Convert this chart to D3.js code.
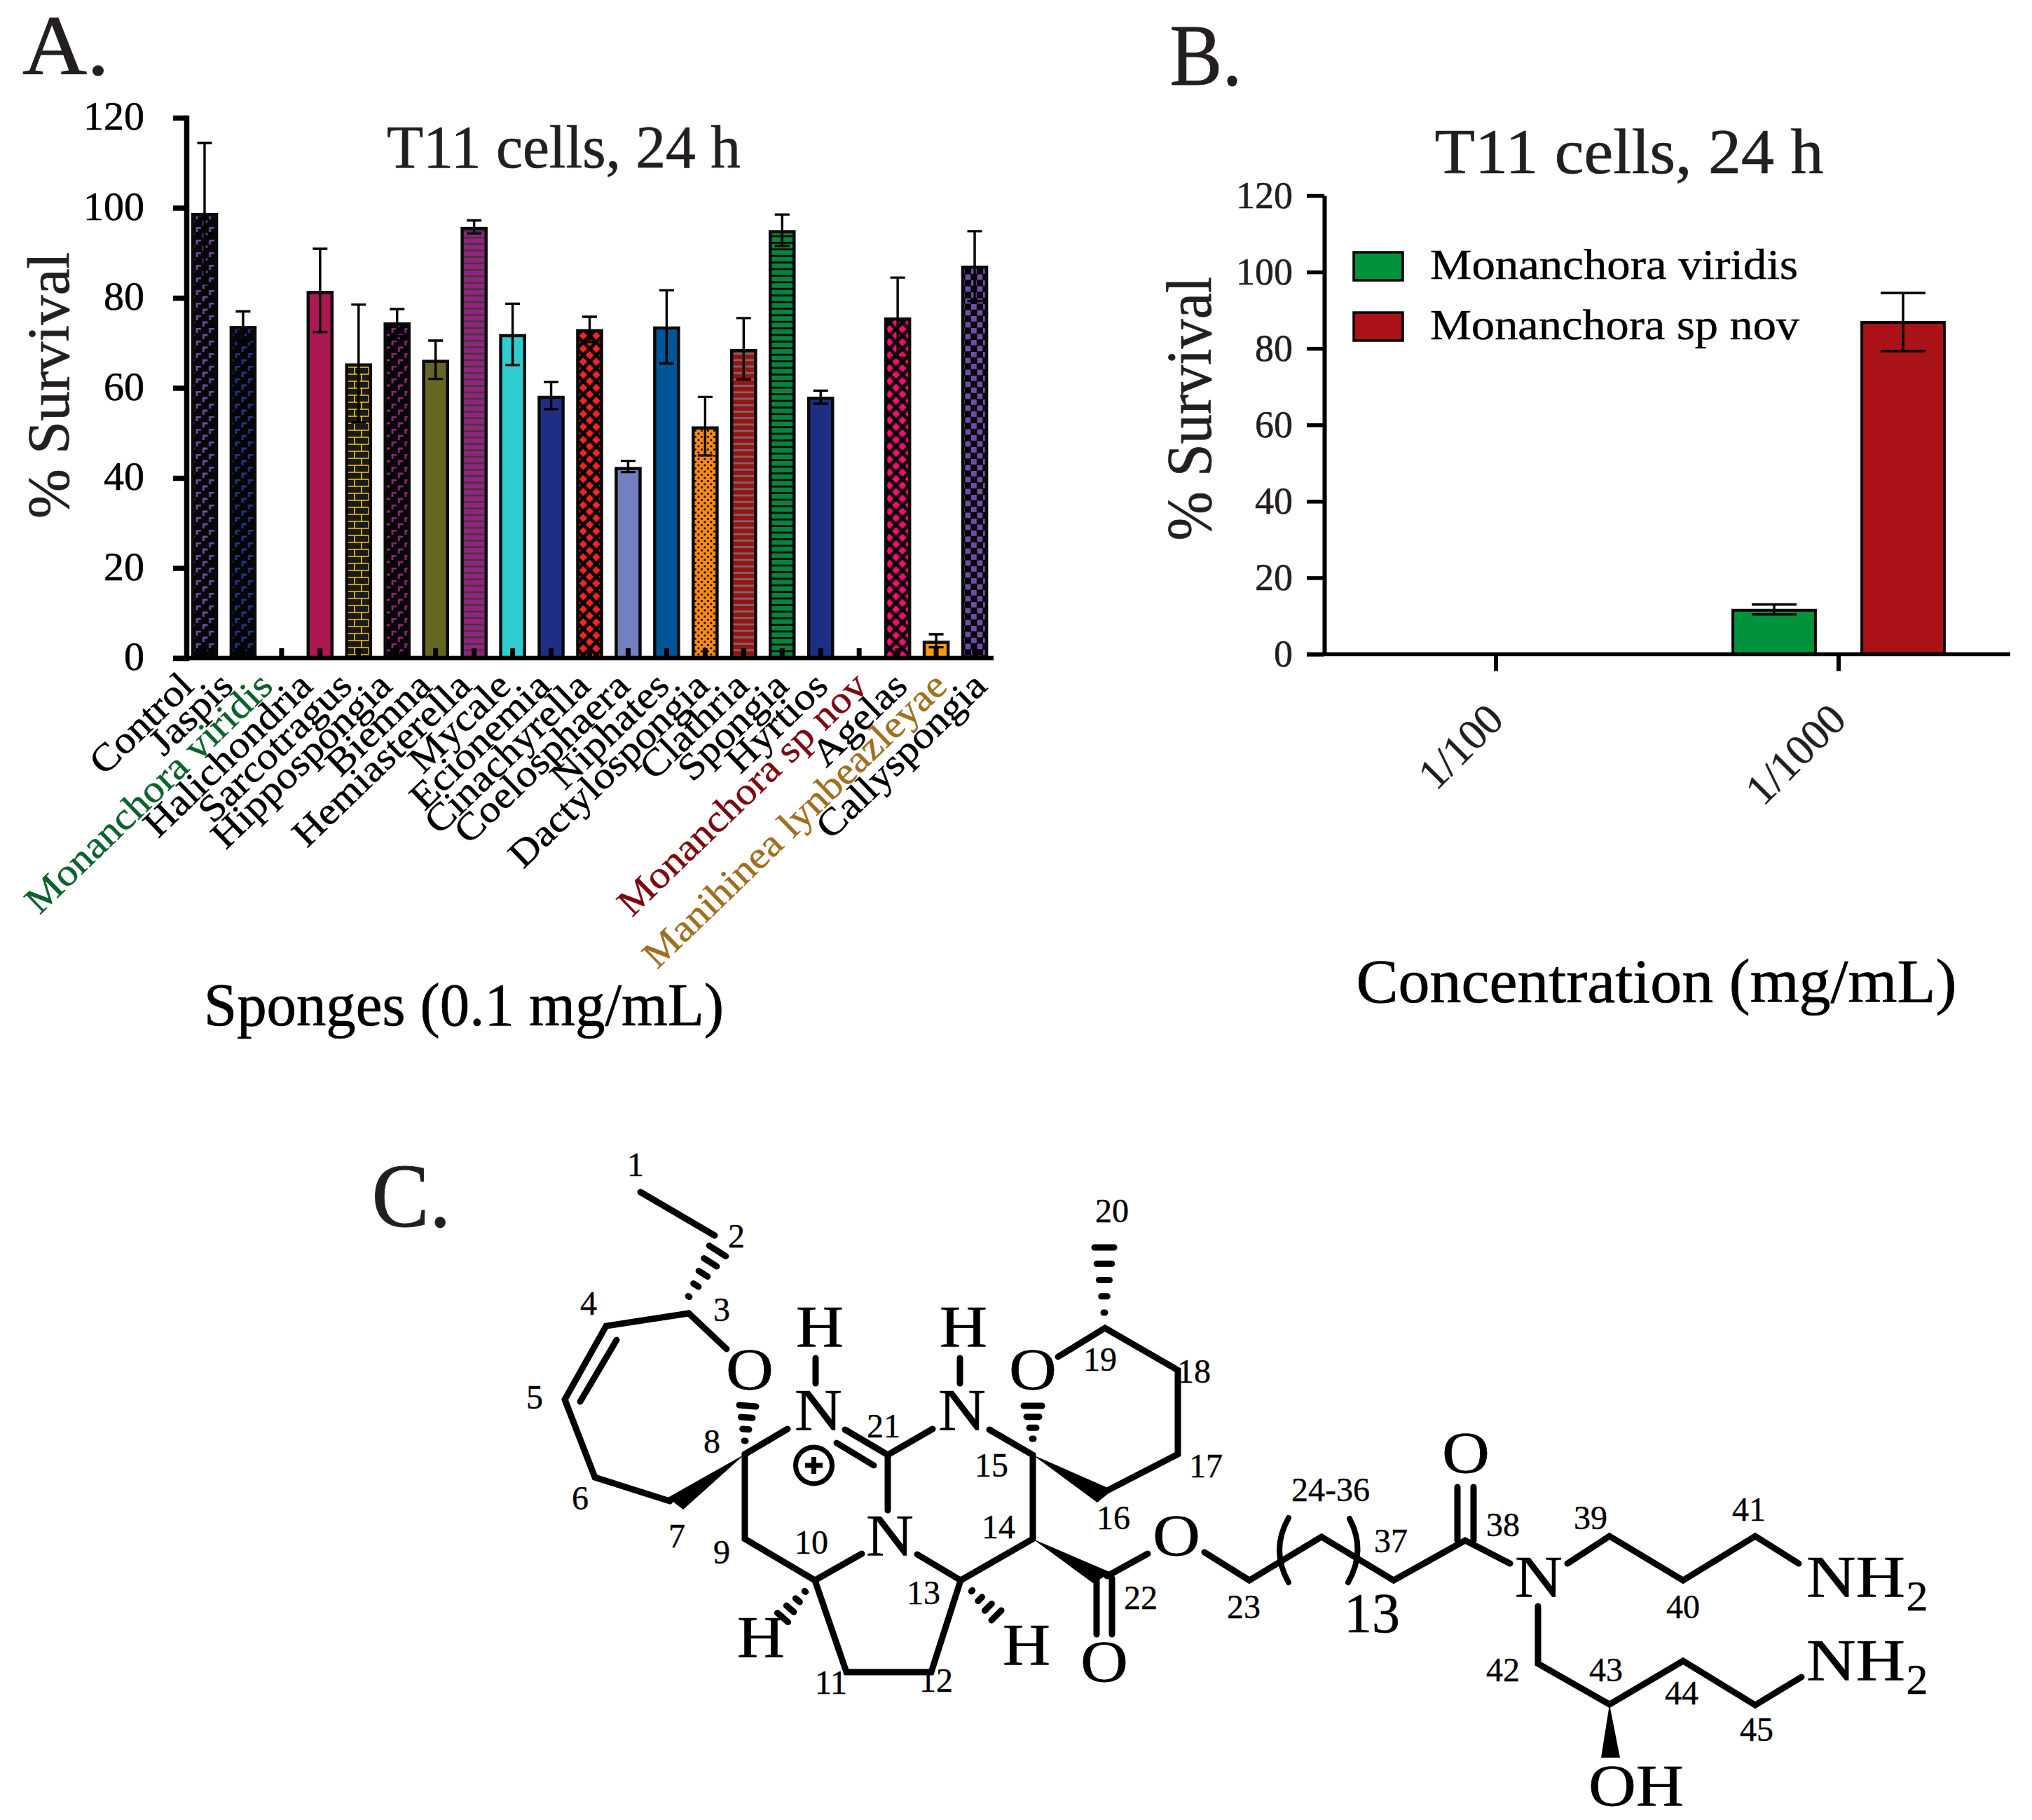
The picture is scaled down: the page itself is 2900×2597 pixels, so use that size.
<!DOCTYPE html>
<html><head><meta charset="utf-8">
<script src="https://cdn.jsdelivr.net/npm/d3@7/dist/d3.min.js"></script>
<style>html,body{margin:0;background:#fff}svg{display:block}text{font-family:"Liberation Serif",serif}</style>
</head><body><svg id="c" width="2900" height="2597"></svg>
<script>
// ---------- Panel A data ----------
const sponges = ["Control","Jaspis","Monanchora viridis","Halichondria","Sarcotragus","Hippospongia","Biemna","Hemiasterella","Mycale","Ecionemia","Cinachyrella","Coelosphaera","Niphates","Dactylospongia","Clathria","Spongia","Hyrtios","Monanchora sp nov","Agelas","Manihinea lynbeazleyae","Callyspongia"];
const survival = [98.5,73.4,0,81.2,65.1,74.2,65.9,95.4,71.6,57.9,72.7,42.1,73.3,51.1,68.3,94.7,57.7,0,75.3,3.5,86.8];
const errHigh  = [114.4,77,0,90.9,78.5,77.5,70.5,97.2,78.7,61.3,75.8,43.8,81.7,58,75.5,98.5,59.4,0,84.5,5.3,94.8];
const errLow   = [83.2,70.4,0,72.4,52.3,71.5,62,94.3,65.1,55.3,70.2,41.3,65.4,45,61.9,91.5,56.5,0,66.7,2.4,79.3];
const yTicks = [0,20,40,60,80,100,120];
// ---------- Panel B data ----------
const concentrations = ["1/100","1/1000"];
const speciesB = ["Monanchora viridis","Monanchora sp nov"];
const survivalViridis = [0,11.5];
const survivalSpNov = [0,86.8];
const errHighViridis = [0,13];
const errLowViridis = [0,10.4];
const errHighSpNov = [0,94.5];
const errLowSpNov = [0,79.3];
// ---------- Panel C: skeleton ----------
const bondPaths = [
 [[914,1701],[1020,1763]],[[983,1874],[1037,1925]],[[983,1874],[865,1892],[806,1997],[849,2108],[956,2142]],
 [[880,1912],[828,2000]],[[1063,2075],[1124,2039]],[[1063,2075],[1063,2196],[1163,2255],[1230,2217]],
 [[1163,2255],[1208,2386],[1329,2386],[1371,2255],[1309,2218]],[[1371,2255],[1474,2196],[1474,2076],[1412,2040]],
 [[1206,2040],[1267,2076],[1331,2039]],[[1194,2059],[1247,2091]],[[1267,2076],[1267,2155]],
 [[1164,1938],[1164,1974]],[[1370,1938],[1370,1974]],
 [[1510,1936],[1577,1895],[1681,1955],[1681,2075],[1582,2126]],
 [[1565,2252],[1565,2332]],[[1587,2252],[1587,2332]],[[1580,2249],[1638,2217]],
 [[1719,2215],[1783,2255],[1886,2193],[1989,2255],[2091,2198],[2155,2231]],
 [[2080,2122],[2080,2198]],[[2103,2122],[2103,2198]],
 [[2237,2231],[2297,2192],[2402,2255],[2505,2192],[2567,2231]],
 [[2195,2292],[2195,2374],[2297,2432],[2402,2370],[2505,2433],[2571,2393]]];
const wedgePaths = [
 [[1063,2075],[953,2137],[975,2154]],[[1474,2076],[1566,2144],[1588,2126]],
 [[1474,2196],[1560,2259],[1586,2244]],[[2297,2432],[2285,2508],[2312,2508]]];
const hashBonds = [
 [[983,1850],[1024,1785],5,14],[[1063,2056],[1067,2006],4,12],[[1474,2053],[1474,2006],4,13],
 [[1149,2271],[1117,2308],4,10],[[1387,2270],[1422,2305],4,10],[[1576,1873],[1576,1780],5,14]];
const atomLabels = [
 ["H",1170,1922],["N",1168,2041],["O",1070,1983],["N",1373,2041],["H",1375,1922],["O",1474,1983],["N",1270,2220],
 ["H",1086,2365],["H",1465,2376],["O",1576,2400],["O",1679,2220],["O",2092,2102],["N",2196,2279],["OH",2335,2577]];
const locants = [
 ["1",907,1678],["2",1051,1780],["3",1030,1885],["4",840,1876],["5",763,2010],["6",828,2154],["7",966,2208],["8",1016,2073],["9",1030,2231],["10",1158,2217],
 ["11",1186,2417],["12",1336,2414],["13",1318,2289],["14",1425,2195],["15",1415,2107],["16",1589,2182],["17",1721,2108],["18",1704,1973],["19",1570,1956],["20",1587,1744],
 ["21",1261,2051],["22",1628,2296],["23",1775,2309],["24-36",1899,2142],["37",1985,2215],["38",2145,2192],["39",2270,2182],["40",2402,2309],["41",2496,2170],["42",2145,2399],["43",2292,2399],["44",2400,2432],["45",2507,2484]];

const svg = d3.select("#c");
const INK = "#231f20";
const defs = svg.append("defs");

function txt(g,s,x,y,size,o={}){
  const col=o.color||"#000";
  const t=g.append("text").attr("x",x).attr("y",y).attr("font-size",size)
    .attr("text-anchor",o.anchor||"middle").attr("fill",col).text(s);
  if(o.bold) t.attr("stroke",col).attr("stroke-width",o.bold);
  if(o.w) t.attr("textLength",o.w).attr("lengthAdjust","spacingAndGlyphs");
  if(o.stretch) t.attr("textLength",t.node().getComputedTextLength()*o.stretch).attr("lengthAdjust","spacingAndGlyphs");
  if(o.transform) t.attr("transform",o.transform);
  return t;
}
// ---------- patterns ----------
function pat(id,w,h,bg,draw){
  const p=defs.append("pattern").attr("id",id).attr("patternUnits","userSpaceOnUse").attr("width",w).attr("height",h);
  p.append("rect").attr("width",w).attr("height",h).attr("fill",bg);
  draw(p);
}
const gamma=(col)=>(p)=>{
  [[2,1],[11.3,10],[20.6,1],[29.9,10]].forEach(([x,y])=>{
    p.append("path").attr("d",`M${x},${y+6}V${y}H${x+6}`).attr("fill","none").attr("stroke",col).attr("stroke-width",2.8);
  });
};
pat("pPurpleBrick",37.2,18,"#050505",gamma("#6e4ca8"));
pat("pBlueBrick",37.2,18,"#050505",gamma("#25348f"));
pat("pMagBrick",37.2,18,"#050505",gamma("#8f2380"));
pat("pYellowBrick",20,20,"#1b1a1a",p=>{
  p.append("path").attr("d","M0,4H20M0,14H20M6,4V14M16,14V20M16,0V4").attr("stroke","#f6c51d").attr("stroke-width",1.6).attr("fill","none");
});
const stripes=(id,per,band,bg,col)=>pat(id,20,per,bg,p=>p.append("rect").attr("width",20).attr("height",band).attr("fill",col));
stripes("pPurpleStripe",9.2,6.6,"#3a3a38","#962280");
stripes("pRedStripe",9.2,6.4,"#6e6e6a","#9c1214");
stripes("pGreenStripe",9.4,6.6,"#0a0a0a","#05843f");
const diamonds=(id,col,r)=>pat(id,18.6,18.6,"#000",p=>{
  [[4.65,4.65],[13.95,13.95],[23.25,-4.65],[-4.65,23.25],[13.95,-4.65],[-4.65,13.95],[23.25,13.95],[13.95,23.25],[4.65,23.25],[23.25,4.65]].forEach(([x,y])=>{
    p.append("path").attr("d",`M${x-r},${y}L${x},${y-r}L${x+r},${y}L${x},${y+r}Z`).attr("fill",col);
  });
});
diamonds("pRedDiamond","#ff2222",5.8);
diamonds("pPinkDiamond","#ff0a78",5.8);
pat("pOrangeDot",9,9,"#ff8a12",p=>{
  p.append("rect").attr("x",1).attr("y",1).attr("width",2.8).attr("height",2.8).attr("fill","#111");
  p.append("rect").attr("x",5.5).attr("y",5.5).attr("width",2.8).attr("height",2.8).attr("fill","#111");
});
pat("pChecker",17,17,"#050505",p=>{
  p.append("rect").attr("x",.5).attr("y",.5).attr("width",7.8).attr("height",7.8).attr("fill","#6e4ca8");
  p.append("rect").attr("x",9).attr("y",9).attr("width",7.8).attr("height",7.8).attr("fill","#6e4ca8");
});
const barFill = {
 "Control":"url(#pPurpleBrick)","Jaspis":"url(#pBlueBrick)","Halichondria":"#ab1852","Sarcotragus":"url(#pYellowBrick)",
 "Hippospongia":"url(#pMagBrick)","Biemna":"#666620","Hemiasterella":"url(#pPurpleStripe)","Mycale":"#2ecdd1","Ecionemia":"#1f2e85",
 "Cinachyrella":"url(#pRedDiamond)","Coelosphaera":"#747fbf","Niphates":"#005596","Dactylospongia":"url(#pOrangeDot)",
 "Clathria":"url(#pRedStripe)","Spongia":"url(#pGreenStripe)","Hyrtios":"#1f2e85","Agelas":"url(#pPinkDiamond)",
 "Manihinea lynbeazleyae":"#ff9a0d","Callyspongia":"url(#pChecker)"};
const labelColor = {"Monanchora viridis":"#0c622c","Monanchora sp nov":"#7a0a10","Manihinea lynbeazleyae":"#a06f20"};

// ---------- Panel A ----------
const A = svg.append("g");
const xA = d3.scaleBand().domain(sponges).range([264.5,1418.5]).paddingInner(.38).paddingOuter(.19);
const yA = d3.scaleLinear().domain([0,120]).range([939,168]);
const dataA = sponges.map((name,i)=>({name,v:survival[i],hi:errHigh[i],lo:errLow[i]}));
const barsA = dataA.filter(d=>d.v>0);
A.selectAll("rect.bar").data(barsA).join("rect").attr("class","bar")
  .attr("x",d=>xA(d.name)).attr("width",xA.bandwidth())
  .attr("y",d=>yA(d.v)).attr("height",d=>yA(0)-yA(d.v))
  .attr("fill",d=>barFill[d.name]).attr("stroke","#0a0a0a").attr("stroke-width",4.5);
const capA=10.5;
A.selectAll("path.err").data(barsA).join("path").attr("class","err")
  .attr("d",d=>{const c=xA(d.name)+xA.bandwidth()/2;
    return `M${c},${yA(d.hi)}V${yA(d.lo)}M${c-capA},${yA(d.hi)}H${c+capA}M${c-capA},${yA(d.lo)}H${c+capA}`;})
  .attr("fill","none").attr("stroke","#000").attr("stroke-width",3.4);
const yAxisA = A.append("g").attr("transform","translate(266,0)")
  .call(d3.axisLeft(yA).tickValues(yTicks).tickSize(19).tickSizeOuter(0).tickPadding(41));
yAxisA.selectAll("line").attr("stroke","#000").attr("stroke-width",7.5);
yAxisA.select(".domain").attr("stroke","#000").attr("stroke-width",7.5).attr("stroke-linecap","square");
yAxisA.selectAll("text").attr("font-size",58).attr("font-family","Liberation Serif").attr("fill","#000").attr("stroke","#000").attr("stroke-width",.6).attr("dy",".29em");
A.append("line").attr("x1",247).attr("x2",1418).attr("y1",yA(0)).attr("y2",yA(0)).attr("stroke","#000").attr("stroke-width",6.5);
const xAxisA = A.append("g").attr("transform",`translate(0,${yA(0)})`)
  .call(d3.axisBottom(xA).tickSize(-14).tickSizeOuter(0).tickFormat(""));
xAxisA.select(".domain").remove();
xAxisA.selectAll("line").attr("stroke","#000").attr("stroke-width",7);
const labelX = d3.scalePoint().domain(sponges).range([279,1411]);
sponges.forEach(n=>{
  txt(A,n,0,0,54,{anchor:"end",color:labelColor[n]||"#000",bold:.5,
    transform:`translate(${labelX(n)},982) rotate(-44) scale(1.1,1)`});
});
txt(A,"T11 cells, 24 h",804.5,239,87,{w:505,color:INK,bold:.7});
txt(A,"% Survival",0,0,84,{w:380,color:INK,bold:.7,transform:"translate(98,550) rotate(-90)"});
txt(A,"Sponges (0.1 mg/mL)",662,1463,86,{w:742,bold:.7});
txt(A,"A.",94,106,120,{w:124,color:INK,bold:1});

// ---------- Panel B ----------
const B = svg.append("g");
const xB = d3.scaleBand().domain(concentrations).range([1890.5,2868.5]);
const xInner = d3.scaleBand().domain(speciesB).range([-184,184]).paddingInner(.36).paddingOuter(.18);
const yB = d3.scaleLinear().domain([0,120]).range([933.5,279]);
const colorsB = d3.scaleOrdinal().domain(speciesB).range(["#00933b","#ab1217"]);
const dataB = [];
concentrations.forEach((c,i)=>{
  dataB.push({c,s:speciesB[0],v:survivalViridis[i],hi:errHighViridis[i],lo:errLowViridis[i]});
  dataB.push({c,s:speciesB[1],v:survivalSpNov[i],hi:errHighSpNov[i],lo:errLowSpNov[i]});
});
const barsB=dataB.filter(d=>d.v>0);
const cx=d=>xB(d.c)+xB.bandwidth()/2+xInner(d.s);
B.selectAll("rect.bar").data(barsB).join("rect").attr("class","bar")
  .attr("x",cx).attr("width",xInner.bandwidth()).attr("y",d=>yB(d.v)).attr("height",d=>yB(0)-yB(d.v))
  .attr("fill",d=>colorsB(d.s)).attr("stroke","#000").attr("stroke-width",4);
const capB=32;
B.selectAll("path.err").data(barsB).join("path").attr("class","err")
  .attr("d",d=>{const c=cx(d)+xInner.bandwidth()/2;
    return `M${c},${yB(d.hi)}V${yB(d.lo)}M${c-capB},${yB(d.hi)}H${c+capB}M${c-capB},${yB(d.lo)}H${c+capB}`;})
  .attr("fill","none").attr("stroke","#000").attr("stroke-width",3.5);
const yAxisB = B.append("g").attr("transform","translate(1890,0)")
  .call(d3.axisLeft(yB).tickValues(yTicks).tickSize(25).tickSizeOuter(0).tickPadding(20));
yAxisB.selectAll("line").attr("stroke","#000").attr("stroke-width",5.5);
yAxisB.select(".domain").attr("stroke","#000").attr("stroke-width",6);
yAxisB.selectAll("text").attr("font-size",54).attr("font-family","Liberation Serif").attr("fill",INK).attr("stroke",INK).attr("stroke-width",.6).attr("dy",".32em");
B.append("line").attr("x1",1865).attr("x2",2869).attr("y1",yB(0)).attr("y2",yB(0)).attr("stroke","#000").attr("stroke-width",5.5);
const xAxisB = B.append("g").attr("transform",`translate(0,${yB(0)})`)
  .call(d3.axisBottom(xB).tickSize(24).tickSizeOuter(0).tickFormat(""));
xAxisB.select(".domain").remove();
xAxisB.selectAll("line").attr("stroke","#000").attr("stroke-width",6);
concentrations.forEach(c=>{
  txt(B,c,0,0,62,{anchor:"end",color:INK,bold:.5,transform:`translate(${xB(c)+xB.bandwidth()/2+14},1030) rotate(-45)`});
});
speciesB.forEach((s,i)=>{
  const y0=[360,446][i];
  B.append("rect").attr("x",1932).attr("y",y0).attr("width",70).attr("height",40).attr("fill",colorsB(s)).attr("stroke","#000").attr("stroke-width",3.5);
  txt(B,s,2041,y0+38,62,{anchor:"start",w:[525,527][i],color:"#000",bold:.5});
});
txt(B,"T11 cells, 24 h",2325,247,92,{w:555,color:INK,bold:.7});
txt(B,"% Survival",0,0,90,{w:377,color:INK,bold:.7,transform:"translate(1728,583) rotate(-90)"});
txt(B,"Concentration (mg/mL)",2364,1430,88,{w:857,bold:.7});
txt(B,"B.",1721,121,125,{w:103,color:INK,bold:1});

// ---------- Panel C ----------
const C = svg.append("g");
const px = d3.scaleIdentity(), py = d3.scaleIdentity();
const bondLine = d3.line().x(d=>px(d[0])).y(d=>py(d[1]));
C.selectAll("path.bond").data(bondPaths).join("path").attr("class","bond").attr("d",bondLine)
  .attr("fill","none").attr("stroke","#000").attr("stroke-width",9).attr("stroke-linecap","round").attr("stroke-linejoin","miter");
C.selectAll("path.wedge").data(wedgePaths).join("path").attr("class","wedge")
  .attr("d",d=>bondLine(d)+"Z").attr("fill","#000");
hashBonds.forEach(([a,b,n,hwMax])=>{
  const dx=b[0]-a[0],dy=b[1]-a[1],L=Math.hypot(dx,dy);
  for(let i=0;i<n;i++){
    const t=i/(n-1),hw=1+t*(hwMax-1),mx=a[0]+dx*t,my=a[1]+dy*t,ux=-dy/L,uy=dx/L;
    C.append("line").attr("x1",mx-ux*hw).attr("y1",my-uy*hw).attr("x2",mx+ux*hw).attr("y2",my+uy*hw)
      .attr("stroke","#000").attr("stroke-width",9).attr("stroke-linecap","round");
  }
});
atomLabels.forEach(([s,x,y])=>txt(C,s,x,y,84,{stretch:1.12,bold:.6}));
locants.forEach(([s,x,y])=>txt(C,s,x,y,48,{bold:.4}));
[2279,2398].forEach(y=>{
  txt(C,"NH",2578,y,84,{anchor:"start",w:141,bold:.6});
  txt(C,"2",2736,y+19,62,{bold:.5});
});
txt(C,"13",1958,2329,80,{bold:.6});
C.append("circle").attr("cx",1161.5).attr("cy",2091).attr("r",26).attr("fill","none").attr("stroke","#000").attr("stroke-width",7);
C.append("path").attr("d","M1149,2091H1174M1161.5,2079V2103").attr("stroke","#000").attr("stroke-width",7);
C.append("path").attr("d","M1839,2166Q1813,2212 1839,2258M1926,2167Q1950,2212 1924,2258").attr("fill","none").attr("stroke","#000").attr("stroke-width",8).attr("stroke-linecap","round");
txt(C,"C.",587,1750,130,{w:113,color:INK,bold:1});
</script></body></html>
